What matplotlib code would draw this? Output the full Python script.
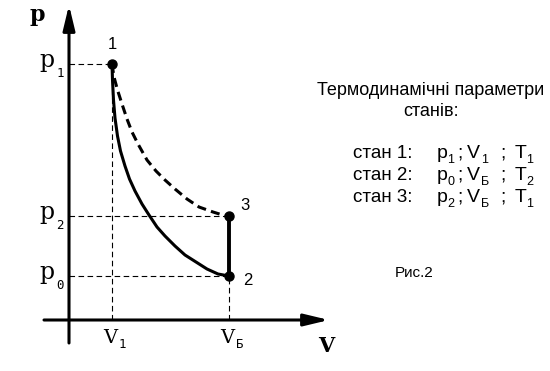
import matplotlib
matplotlib.use('Agg')
import matplotlib.pyplot as plt

plt.rcParams['lines.scale_dashes'] = False

# state values (arbitrary units)
V1, VB = 4.3, 16.0
p1, p2, p0 = 25.6, 10.4, 4.4

# solid curve 1 -> 2
solid_V = [4.3, 4.35, 4.45, 4.6, 4.85, 5.15, 5.6, 6.05, 6.6, 7.3, 8.0, 8.8, 9.6, 10.6, 11.6, 12.7, 13.8, 14.9, 16.0]
solid_p = [25.6, 24.0, 22.0, 20.2, 18.4, 16.9, 15.4, 14.1, 12.9, 11.6, 10.5, 9.3, 8.4, 7.4, 6.5, 5.8, 5.1, 4.6, 4.4]

# dashed curve 1 -> 3
dash_V = [4.3, 4.5, 4.85, 5.3, 5.8, 6.3, 6.9, 7.8, 8.7, 9.6, 10.6, 11.8, 13.0, 14.4, 15.2, 16.0]
dash_p = [25.6, 24.3, 23.0, 21.6, 20.1, 18.8, 17.6, 16.0, 14.9, 14.0, 13.1, 12.1, 11.3, 10.8, 10.55, 10.4]

state_num = ['1', '2', '3']
state_V = [V1, VB, VB]
state_p = [p1, p0, p2]

p_ticks = [p1, p2, p0]
p_subs = ['1', '2', '0']
V_ticks = [V1, VB]
V_subs = ['1', 'Б']

row_p = ['1', '0', '2']
row_V = ['1', 'Б', 'Б']
row_T = ['1', '2', '1']

serif = 'DejaVu Serif'
mono = 'DejaVu Sans Mono'
sans = 'Liberation Sans'

fig = plt.figure(figsize=(5.5, 3.71), dpi=100)
ax = fig.add_axes([0, 0, 1, 1])
ax.set_xlim(-6.9, 48.1)
ax.set_ylim(-5.1, 32.0)
ax.axis('off')

# axes with arrows
arr = dict(arrowstyle='-|>,head_length=1.5,head_width=0.36', mutation_scale=10,
           lw=2.2, color='black', shrinkA=0, shrinkB=0)
ax.annotate('', xy=(0, 31.5), xytext=(0, -2.3), arrowprops=arr)
ax.annotate('', xy=(26.0, 0), xytext=(-2.5, 0), arrowprops=arr)

# thin dashed guide lines
thin = dict(color='black', lw=0.8, linestyle=(0, (4, 2.5)))
ax.plot([0, V1], [p1, p1], **thin)
ax.plot([0, VB], [p2, p2], **thin)
ax.plot([0, VB], [p0, p0], **thin)
ax.plot([V1, V1], [0, p1], **thin)
ax.plot([VB, VB], [0, p0], **thin)

# process curves
ax.plot(solid_V, solid_p, color='black', lw=2.2, solid_capstyle='round')
ax.plot(dash_V, dash_p, color='black', lw=2.2, linestyle=(0, (6.5, 3.8)))
ax.plot([VB, VB], [p0, p2], color='black', lw=2.8)
ax.plot(state_V, state_p, 'o', color='black', markersize=6.5)

# state numbers
num_off = [(0.0, 1.5), (1.9, -0.9), (1.6, 0.6)]
for n, v, p, (dx, dy) in zip(state_num, state_V, state_p, num_off):
    ax.text(v + dx, p + dy, n, ha='center', va='baseline', fontsize=12, family=sans)

# axis titles
ax.text(-3.2, 29.9, 'p', ha='center', va='baseline', fontsize=16, family=serif, weight='bold')
ax.text(25.7, -3.2, 'V', ha='center', va='baseline', fontsize=15, family=serif, weight='bold')

# tick labels
for p, s in zip(p_ticks, p_subs):
    ax.text(-2.2, p - 0.3, 'p', ha='center', va='baseline', fontsize=17, family=serif)
    ax.text(-0.9, p - 1.3, s, ha='center', va='baseline', fontsize=9, family=mono)
for v, s in zip(V_ticks, V_subs):
    ax.text(v - 0.15, -2.3, 'V', ha='center', va='baseline', fontsize=14, family=serif)
    ax.text(v + 1.05, -2.8, s, ha='center', va='baseline', fontsize=9, family=mono)

# parameters of states
ax.text(36.2, 21.9, 'Термодинамічні параметри\nстанів:', ha='center', va='center',
        multialignment='center', fontsize=13, family=sans, linespacing=1.3)
rows_y = [16.2, 14.0, 11.8]
for i, y in enumerate(rows_y):
    ax.text(28.4, y, f'стан {i + 1}:', ha='left', va='baseline', fontsize=13.5, family=sans)
    ax.text(36.8, y, 'p', ha='left', va='baseline', fontsize=14, family=sans)
    ax.text(37.85, y - 0.5, row_p[i], ha='left', va='baseline', fontsize=9, family=sans)
    ax.text(38.8, y, ';', ha='left', va='baseline', fontsize=14, family=sans)
    ax.text(39.8, y, 'V', ha='left', va='baseline', fontsize=14, family=sans)
    ax.text(41.2, y - 0.5, row_V[i], ha='left', va='baseline', fontsize=9, family=sans)
    ax.text(43.1, y, ';', ha='left', va='baseline', fontsize=14, family=sans)
    ax.text(44.6, y, 'T', ha='left', va='baseline', fontsize=14, family=sans)
    ax.text(45.75, y - 0.5, row_T[i], ha='left', va='baseline', fontsize=9, family=sans)

ax.text(32.6, 4.3, 'Рис.2', ha='left', va='baseline', fontsize=11, family=sans)

fig.savefig('out.png', dpi=100)
plt.close('all')
